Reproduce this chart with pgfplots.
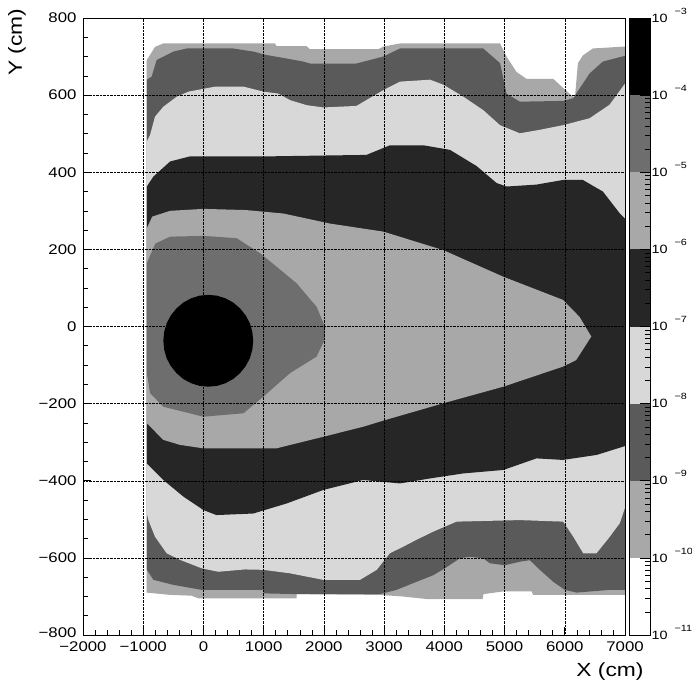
\documentclass[border=0pt]{standalone}
\usepackage{fontspec}
\setmainfont{Liberation Sans}[FakeStretch=1.2]
\usepackage{pgfplots}
\pgfplotsset{compat=1.18}
\definecolor{cA}{HTML}{A8A8A8}
\definecolor{cB}{HTML}{5A5A5A}
\definecolor{cC}{HTML}{D8D8D8}
\definecolor{cD}{HTML}{262626}
\definecolor{cE}{HTML}{6E6E6E}
\begin{document}
\begin{tikzpicture}
\path[use as bounding box] (-83pt,-53pt) rectangle (609pt,635pt);
\begin{axis}[name=main, at={(0pt,0pt)}, anchor=south west,
  width=542pt, height=617pt, scale only axis,
  xmin=-2000, xmax=7000, ymin=-800, ymax=800,
  axis on top, grid=major,
  major grid style={black, densely dotted, line width=0.5pt},
  xtick={-2000,-1000,...,7000}, ytick={-800,-600,...,800},
  minor x tick num=4, minor y tick num=3,
  tick pos=left, tick align=inside,
  major tick length=8pt, minor tick length=5pt,
  xticklabels={−2000,−1000,0,1000,2000,3000,4000,5000,6000,7000},
  yticklabels={\raisebox{5pt}{−800},−600,−400,−200,0,200,400,600,800},
  tick label style={font=\fontsize{14}{14}\selectfont},
  xticklabel style={yshift=-3pt},
  yticklabel style={xshift=-3pt},
  axis line style={line width=0.8pt},
  every tick/.style={black, line width=0.6pt}]
% > 1e-10
\addplot[fill=cA, draw=none] coordinates {
(-945,690) (-888,704) (-805,725) (-666,734) (1188,734) (1215,727) (1713,727) (1768,719)
(2900,719) (2990,726) (3264,734) (4925,734) (5033,700) (5199,660) (5367,642) (5810,642)
(5970,619) (6136,596) (6170,596) (6218,683) (6301,703) (6467,721) (7000,726)
(7000,-696) (5475,-696) (5450,-687) (4976,-687) (4650,-694) (4636,-707) (3725,-707)
(3300,-700) (2930,-696) (1547,-694) (1547,-705) (-83,-705) (-200,-698) (-553,-696) (-945,-690)};
% > 1e-9
\addplot[fill=cB, draw=none] coordinates {
(-940,640) (-860,648) (-777,691) (-498,713) (-277,721) (493,721) (825,713) (1048,704)
(1380,695) (1657,687) (1768,682) (2540,682) (2987,700) (3264,721) (4645,721) (4925,683)
(5032,604) (5253,583) (5970,585) (6140,592) (6411,656) (6632,687) (7000,702)
(7000,-683) (6748,-683) (6195,-690) (6001,-683) (5808,-662) (5586,-631) (5420,-606)
(5254,-610) (5005,-619) (4756,-614) (4645,-601) (4424,-597) (4258,-601) (4009,-627)
(3815,-645) (3539,-662) (3206,-683) (2930,-694) (1547,-694) (1000,-692) (993,-683)
(-30,-683) (-498,-670) (-830,-657) (-940,-631)};
% > 1e-8
\addplot[fill=cC, draw=none] coordinates {
(-940,480) (-888,496) (-805,544) (-666,570) (-444,596) (-250,609) (194,622) (664,622)
(997,609) (1243,604) (1437,587) (1713,574) (1990,568) (2540,572) (2987,613) (3264,635)
(3762,640) (3983,627) (4315,596) (4647,561) (4925,522) (5253,501) (5585,510) (5970,522)
(6411,540) (6743,575) (7000,630)
(7000,-470) (6914,-510) (6748,-545) (6527,-588) (6306,-588) (6140,-545) (5973,-506)
(5254,-502) (4203,-506) (4009,-519) (3815,-532) (3539,-553) (3317,-571) (3096,-588)
(2877,-631) (2600,-657) (1990,-657) (1436,-640) (993,-631) (688,-630) (246,-636)
(-30,-627) (-390,-605) (-611,-588) (-805,-545) (-914,-502) (-940,-485)};
% > 1e-7
\addplot[fill=cD, draw=none] coordinates {
(-940,363) (-830,389) (-553,428) (-227,441) (991,441) (2707,445) (3098,470) (3651,470)
(4094,458) (4536,416) (4868,372) (5034,363) (5530,368) (5970,380) (6300,380) (6632,350)
(6910,294) (7000,280)
(7000,-310) (6530,-333) (5970,-346) (5530,-342) (4980,-372) (4315,-381) (3762,-394)
(3264,-407) (2650,-398) (1988,-424) (1379,-459) (826,-485) (216,-489) (0,-476)
(-334,-441) (-666,-398) (-940,-355)};
% > 1e-6
\addplot[fill=cA, draw=none] coordinates {
(-940,255) (-850,285) (-553,300) (0,305) (700,302) (1326,293) (2098,267) (2987,246)
(3983,198) (4980,129) (5970,69) (6245,25) (6440,-26) (6190,-87) (5970,-104) (4980,-156)
(3983,-199) (2987,-244) (2650,-260) (1988,-286) (1210,-316) (0,-316) (-390,-307)
(-666,-294) (-940,-251)};
% > 1e-5
\addplot[fill=cE, draw=none] coordinates {
(-940,164) (-800,215) (-553,233) (0,235) (553,229) (940,190) (1216,155) (1547,112)
(1879,51) (2016,0) (2016,-33) (1879,-78) (1437,-121) (994,-182) (663,-225) (0,-234)
(-666,-208) (-886,-173) (-940,-121)};
% > 1e-4
\addplot[fill=black, draw=none] coordinates {
(826,-37) (812,-14) (769,9) (700,29) (607,47) (495,62) (366,73) (225,80) (80,82)
(-65,80) (-206,73) (-335,62) (-447,47) (-540,29) (-609,9) (-652,-14) (-666,-37)
(-652,-60) (-609,-83) (-540,-103) (-447,-121) (-335,-136) (-206,-147) (-65,-154)
(80,-156) (225,-154) (366,-147) (495,-136) (607,-121) (700,-103) (769,-83) (812,-60)};
\end{axis}
\begin{axis}[at={(546pt,0pt)}, anchor=south west,
  width=21pt, height=617pt, scale only axis,
  xmin=0, xmax=1, ymode=log, ymin=1e-11, ymax=1e-3,
  axis on top, xtick=\empty,
  ytick={1e-11,1e-10,1e-9,1e-8,1e-7,1e-6,1e-5,1e-4,1e-3},
  minor ytick={2e-11,3e-11,4e-11,5e-11,6e-11,7e-11,8e-11,9e-11,
    2e-10,3e-10,4e-10,5e-10,6e-10,7e-10,8e-10,9e-10,
    2e-9,3e-9,4e-9,5e-9,6e-9,7e-9,8e-9,9e-9,
    2e-8,3e-8,4e-8,5e-8,6e-8,7e-8,8e-8,9e-8,
    2e-7,3e-7,4e-7,5e-7,6e-7,7e-7,8e-7,9e-7,
    2e-6,3e-6,4e-6,5e-6,6e-6,7e-6,8e-6,9e-6,
    2e-5,3e-5,4e-5,5e-5,6e-5,7e-5,8e-5,9e-5,
    2e-4,3e-4,4e-4,5e-4,6e-4,7e-4,8e-4,9e-4},
  yticklabels={
    10\hspace{7pt}\smash{\raisebox{8pt}{\fontsize{9}{9}\selectfont −11}},
    10\hspace{7pt}\smash{\raisebox{8pt}{\fontsize{9}{9}\selectfont −10}},
    10\hspace{7pt}\smash{\raisebox{8pt}{\fontsize{9}{9}\selectfont −9}},
    10\hspace{7pt}\smash{\raisebox{8pt}{\fontsize{9}{9}\selectfont −8}},
    10\hspace{7pt}\smash{\raisebox{8pt}{\fontsize{9}{9}\selectfont −7}},
    10\hspace{7pt}\smash{\raisebox{8pt}{\fontsize{9}{9}\selectfont −6}},
    10\hspace{7pt}\smash{\raisebox{8pt}{\fontsize{9}{9}\selectfont −5}},
    10\hspace{7pt}\smash{\raisebox{8pt}{\fontsize{9}{9}\selectfont −4}},
    10\hspace{7pt}\smash{\raisebox{8pt}{\fontsize{9}{9}\selectfont −3}}},
  ytick pos=right, yticklabel pos=right, tick align=inside,
  major tick length=10pt, minor tick length=5pt,
  yticklabel style={anchor=west, font=\fontsize{12}{12}\selectfont, xshift=-2pt},
  axis line style={line width=0.8pt},
  every tick/.style={black, line width=0.6pt}]
\addplot[fill=white, draw=none] coordinates {(0,1e-11) (1,1e-11) (1,1e-10) (0,1e-10)};
\addplot[fill=cA, draw=none] coordinates {(0,1e-10) (1,1e-10) (1,1e-9) (0,1e-9)};
\addplot[fill=cB, draw=none] coordinates {(0,1e-9) (1,1e-9) (1,1e-8) (0,1e-8)};
\addplot[fill=cC, draw=none] coordinates {(0,1e-8) (1,1e-8) (1,1e-7) (0,1e-7)};
\addplot[fill=cD, draw=none] coordinates {(0,1e-7) (1,1e-7) (1,1e-6) (0,1e-6)};
\addplot[fill=cA, draw=none] coordinates {(0,1e-6) (1,1e-6) (1,1e-5) (0,1e-5)};
\addplot[fill=cE, draw=none] coordinates {(0,1e-5) (1,1e-5) (1,1e-4) (0,1e-4)};
\addplot[fill=black, draw=none] coordinates {(0,1e-4) (1,1e-4) (1,1e-3) (0,1e-3)};
\end{axis}
\node[rotate=90, font=\fontsize{19}{19}\selectfont] at (-66pt,593pt) {Y (cm)};
\node[font=\fontsize{19}{19}\selectfont] at (527pt,-37pt) {X (cm)};
\end{tikzpicture}
\end{document}
